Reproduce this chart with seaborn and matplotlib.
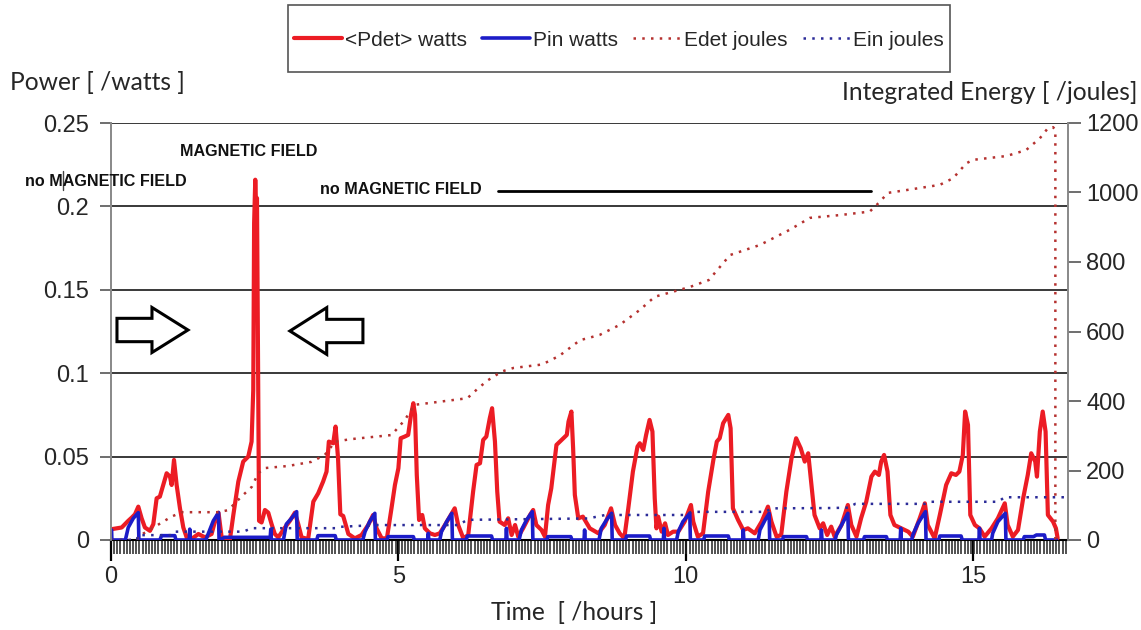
import matplotlib
matplotlib.use("Agg")
import matplotlib.pyplot as plt
import matplotlib.patches as mpatches
from matplotlib.lines import Line2D
from matplotlib.ticker import MultipleLocator
import seaborn as sns

# ---- data -------------------------------------------------------------
pdet_t = [0.0, 0.012, 0.186, 0.30, 0.36, 0.417, 0.475, 0.533, 0.59, 0.678, 0.736, 0.794,
          0.85, 0.91, 0.968, 1.026, 1.055, 1.096, 1.142, 1.2, 1.258, 1.316, 1.40, 1.52,
          1.635, 1.75, 1.80, 1.87, 1.925, 2.07, 2.13, 2.215, 2.30, 2.388, 2.446, 2.475,
          2.49, 2.51, 2.525, 2.54, 2.555, 2.576, 2.62, 2.678, 2.736, 2.794, 2.85, 2.91,
          3.026, 3.113, 3.2, 3.258, 3.316, 3.43, 3.52, 3.605, 3.69, 3.75, 3.79, 3.866,
          3.907, 3.95, 3.99, 4.04, 4.13, 4.243, 4.359, 4.475, 4.56, 4.62, 4.71, 4.80,
          4.88, 4.94, 5.0, 5.04, 5.11, 5.17, 5.22, 5.26, 5.29, 5.32, 5.36, 5.415, 5.46,
          5.55, 5.635, 5.72, 5.81, 5.93, 5.98, 6.04, 6.13, 6.215, 6.30, 6.36, 6.42, 6.475,
          6.53, 6.59, 6.63, 6.68, 6.72, 6.76, 6.85, 6.91, 6.97, 7.03, 7.085, 7.17, 7.29,
          7.345, 7.40, 7.49, 7.55, 7.605, 7.66, 7.75, 7.84, 7.93, 7.96, 8.01, 8.04, 8.07,
          8.13, 8.21, 8.33, 8.48, 8.59, 8.70, 8.77, 8.85, 8.93, 9.0, 9.08, 9.16, 9.2, 9.26,
          9.31, 9.37, 9.42, 9.46, 9.49, 9.52, 9.58, 9.64, 9.69, 9.78, 9.87, 9.98, 10.09,
          10.13, 10.21, 10.3, 10.39, 10.48, 10.54, 10.59, 10.65, 10.74, 10.78, 10.82,
          10.91, 11.0, 11.08, 11.2, 11.32, 11.43, 11.49, 11.58, 11.66, 11.75, 11.84, 11.92,
          12.0, 12.07, 12.13, 12.18, 12.24, 12.33, 12.39, 12.46, 12.53, 12.59, 12.71,
          12.82, 12.88, 12.97, 13.05, 13.14, 13.23, 13.29, 13.36, 13.40, 13.45, 13.51,
          13.56, 13.63, 13.75, 13.87, 13.95, 14.07, 14.16, 14.21, 14.33, 14.42, 14.53,
          14.62, 14.70, 14.76, 14.82, 14.86, 14.91, 14.95, 15.03, 15.11, 15.2, 15.32,
          15.43, 15.55, 15.60, 15.69, 15.78, 15.87, 15.95, 16.01, 16.08, 16.11, 16.16,
          16.21, 16.26, 16.30, 16.39, 16.44, 16.47]
pdet_w = [0.0065, 0.0065, 0.0075, 0.0115, 0.0134, 0.0154, 0.020, 0.013, 0.0075, 0.0055,
          0.0095, 0.025, 0.026, 0.033, 0.040, 0.038, 0.033, 0.048, 0.033, 0.019, 0.0075,
          0.0016, 0.0006, 0.0036, 0.0016, 0.0036, 0.010, 0.0164, 0.0016, 0.0006, 0.0154,
          0.035, 0.047, 0.050, 0.059, 0.09, 0.19, 0.216, 0.20, 0.205, 0.12, 0.0115, 0.0105,
          0.018, 0.0164, 0.0095, 0.0036, 0.0016, 0.0075, 0.0115, 0.0164, 0.0095, 0.0016,
          0.0006, 0.023, 0.028, 0.035, 0.041, 0.059, 0.058, 0.068, 0.049, 0.0154, 0.0144,
          0.0036, 0.001, 0.003, 0.009, 0.015, 0.007, 0.001, 0.001, 0.019, 0.033, 0.043,
          0.061, 0.062, 0.063, 0.075, 0.082, 0.075, 0.039, 0.012, 0.015, 0.007, 0.004,
          0.003, 0.004, 0.009, 0.016, 0.019, 0.009, 0.001, 0.003, 0.029, 0.045, 0.046,
          0.060, 0.062, 0.073, 0.079, 0.059, 0.029, 0.011, 0.009, 0.013, 0.003, 0.009,
          0.002, 0.007, 0.015, 0.018, 0.009, 0.006, 0.002, 0.021, 0.031, 0.057, 0.060,
          0.063, 0.071, 0.077, 0.055, 0.027, 0.013, 0.014, 0.007, 0.004, 0.009, 0.019,
          0.009, 0.004, 0.001, 0.019, 0.041, 0.056, 0.058, 0.054, 0.063, 0.072, 0.065,
          0.025, 0.007, 0.014, 0.005, 0.010, 0.003, 0.005, 0.005, 0.011, 0.021, 0.011,
          0.002, 0.004, 0.029, 0.048, 0.059, 0.061, 0.070, 0.075, 0.067, 0.019, 0.012,
          0.006, 0.007, 0.004, 0.011, 0.020, 0.011, 0.002, 0.003, 0.029, 0.049, 0.061,
          0.055, 0.047, 0.052, 0.035, 0.015, 0.007, 0.010, 0.003, 0.008, 0.002, 0.009,
          0.021, 0.009, 0.002, 0.013, 0.023, 0.038, 0.041, 0.039, 0.047, 0.051, 0.041,
          0.015, 0.009, 0.007, 0.005, 0.002, 0.013, 0.022, 0.009, 0.001, 0.015, 0.033,
          0.040, 0.039, 0.041, 0.051, 0.077, 0.069, 0.015, 0.009, 0.007, 0.002, 0.007,
          0.013, 0.022, 0.009, 0.002, 0.006, 0.025, 0.039, 0.052, 0.047, 0.038, 0.065,
          0.077, 0.065, 0.015, 0.011, 0.007, 0.001]

pin_t = [0.0, 0.01, 0.015, 0.25, 0.30, 0.388, 0.475, 0.485, 0.85, 0.88, 1.11, 1.13, 1.36,
         1.37, 1.38, 1.65, 1.69, 1.78, 1.87, 1.88, 1.98, 2.77, 2.78, 2.79, 3.0, 3.05, 3.14,
         3.23, 3.24, 3.58, 3.6, 3.9, 3.92, 4.38, 4.42, 4.50, 4.59, 4.60, 4.80, 4.82, 5.26,
         5.28, 5.51, 5.52, 5.53, 5.72, 5.75, 5.84, 5.93, 5.94, 6.18, 6.2, 6.62, 6.64, 6.87,
         6.88, 6.89, 7.1, 7.14, 7.23, 7.33, 7.34, 7.58, 7.6, 8.0, 8.02, 8.23, 8.24, 8.25,
         8.49, 8.53, 8.62, 8.71, 8.72, 8.95, 8.97, 9.37, 9.39, 9.61, 9.62, 9.63, 9.84, 9.87,
         9.95, 10.07, 10.08, 10.31, 10.33, 10.74, 10.76, 10.99, 11.0, 11.01, 11.26, 11.29,
         11.38, 11.45, 11.46, 11.68, 11.7, 12.1, 12.12, 12.35, 12.36, 12.37, 12.6, 12.62,
         12.71, 12.82, 12.83, 13.09, 13.11, 13.49, 13.51, 13.73, 13.74, 13.75, 13.93,
         13.95, 14.04, 14.17, 14.18, 14.4, 14.42, 14.79, 14.81, 15.1, 15.11, 15.12, 15.32,
         15.34, 15.43, 15.56, 15.57, 15.87, 15.89, 16.05, 16.1, 16.24, 16.26, 16.45]
pin_w = [0.006, 0.006, 0.0, 0.0, 0.0075, 0.013, 0.0164, 0.0, 0.0, 0.0026, 0.0026, 0.0, 0.0,
         0.0065, 0.0, 0.0, 0.0036, 0.0115, 0.0164, 0.0, 0.0016, 0.0016, 0.0065, 0.0, 0.0,
         0.0095, 0.013, 0.017, 0.0, 0.0, 0.0026, 0.0026, 0.0, 0.0, 0.005, 0.011, 0.016,
         0.0, 0.0, 0.002, 0.002, 0.0, 0.0, 0.004, 0.0, 0.0, 0.005, 0.011, 0.016, 0.0, 0.0,
         0.0024, 0.0024, 0.0, 0.0, 0.007, 0.0, 0.0, 0.006, 0.012, 0.017, 0.0, 0.0, 0.002,
         0.002, 0.0, 0.0, 0.006, 0.0, 0.0, 0.007, 0.012, 0.016, 0.0, 0.0, 0.0024, 0.0024,
         0.0, 0.0, 0.007, 0.0, 0.0, 0.005, 0.011, 0.016, 0.0, 0.0, 0.0024, 0.0024, 0.0,
         0.0, 0.006, 0.0, 0.0, 0.006, 0.012, 0.016, 0.0, 0.0, 0.002, 0.002, 0.0, 0.0,
         0.006, 0.0, 0.0, 0.003, 0.009, 0.016, 0.0, 0.0, 0.002, 0.002, 0.0, 0.0, 0.007,
         0.0, 0.0, 0.003, 0.010, 0.017, 0.0, 0.0, 0.0024, 0.0024, 0.0, 0.0, 0.007, 0.0,
         0.0, 0.004, 0.011, 0.016, 0.0, 0.0, 0.002, 0.002, 0.003, 0.003, 0.0, 0.0]

edet_t = [0.0, 0.45, 0.475, 0.76, 1.05, 1.23, 1.87, 2.04, 2.27, 2.45, 2.56, 2.68, 3.08,
          3.49, 3.72, 3.9, 4.16, 4.88, 5.11, 5.28, 5.58, 6.2, 6.39, 6.56, 6.8, 7.0, 7.5,
          7.8, 8.16, 8.5, 8.85, 9.2, 9.46, 10.07, 10.4, 10.77, 11.29, 11.8, 12.16, 12.68,
          13.2, 13.32, 13.52, 13.84, 14.42, 14.65, 14.88, 15.0, 15.58, 15.92, 16.16, 16.3,
          16.39, 16.43, 16.43]
edet_j = [0, 0, 10, 38, 67, 80, 80, 86, 125, 153, 192, 207, 213, 225, 245, 283, 290, 302,
          345, 389, 395, 408, 437, 460, 485, 495, 505, 530, 575, 590, 619, 662, 700, 728,
          748, 820, 849, 892, 927, 935, 945, 964, 999, 1007, 1022, 1041, 1084, 1094, 1105,
          1122, 1156, 1185, 1188, 1180, 0]

ein_t = [0.0, 0.45, 0.475, 1.05, 1.1, 2.3, 2.45, 3.9, 4.0, 4.6, 6.04, 6.2, 8.3, 8.45, 8.6,
         9.98, 10.1, 11.38, 11.5, 12.5, 12.82, 12.95, 14.16, 14.25, 15.43, 15.55, 16.6]
ein_j = [0, 0, 14, 14, 24, 24, 34, 34, 38, 43, 43, 58, 62, 67, 72, 72, 81, 81, 91, 92, 93,
         104, 104, 110, 110, 123, 123]

power_ticks = [0, 0.05, 0.1, 0.15, 0.2, 0.25]
power_labels = ["0", "0.05", "0.1", "0.15", "0.2", "0.25"]
energy_ticks = [0, 200, 400, 600, 800, 1000, 1200]
time_ticks = [0, 5, 10, 15]

# ---- styling ------------------------------------------------------------
sns.set_style("white")
plt.rcParams["font.family"] = ["Liberation Sans", "DejaVu Sans"]

W, H = 1141, 630
RED = "#ec1c24"
BLUE = "#1c1cc8"
RED_DOT = "#b5312f"
BLUE_DOT = "#2b2b98"


def fpos(x, y):
    return x / W, 1 - y / H


fig = plt.figure(figsize=(W / 100, H / 100), dpi=100)
fig.patch.set_facecolor("white")
ax = fig.add_axes([111 / W, 1 - 540 / H, (1068 - 111) / W, (540 - 123) / H])
ax2 = ax.twinx()

sns.lineplot(x=pdet_t, y=pdet_w, ax=ax, color=RED, linewidth=3.0, estimator=None,
             sort=False, label="<Pdet> watts", zorder=3)
sns.lineplot(x=pin_t, y=pin_w, ax=ax, color=BLUE, linewidth=2.6, estimator=None,
             sort=False, label="Pin watts", zorder=4)
sns.lineplot(x=edet_t, y=edet_j, ax=ax2, color=RED_DOT, linewidth=1.8, estimator=None,
             sort=False, label="Edet joules", linestyle=(0, (1, 2.5)))
sns.lineplot(x=ein_t, y=ein_j, ax=ax2, color=BLUE_DOT, linewidth=1.8, estimator=None,
             sort=False, label="Ein joules", linestyle=(0, (1, 2.5)))

h1, l1 = ax.get_legend_handles_labels()
h2, l2 = ax2.get_legend_handles_labels()
for a in (ax, ax2):
    if a.get_legend() is not None:
        a.get_legend().remove()

ax.set_xlim(0, 16.65)
ax.set_ylim(0, 0.25)
ax2.set_ylim(0, 1200)
ax.set_xlabel("")
ax.set_ylabel("")
ax2.set_ylabel("")

ax.set_yticks(power_ticks)
ax.set_yticklabels(power_labels)
ax2.set_yticks(energy_ticks)
ax.set_xticks(time_ticks)
ax.xaxis.set_minor_locator(MultipleLocator(0.055))

ax.grid(False)
ax2.grid(False)
for yv in power_ticks[1:]:
    ax.axhline(yv, color="#2a2a2a", linewidth=1.3, zorder=1)

for side in ("left", "right"):
    ax.spines[side].set_color("#8a8a8a")
    ax2.spines[side].set_color("#8a8a8a")
    ax.spines[side].set_linewidth(1.3)
    ax2.spines[side].set_linewidth(1.3)
ax.spines["top"].set_visible(False)
ax2.spines["top"].set_visible(False)
ax.spines["bottom"].set_color("black")
ax.spines["bottom"].set_linewidth(1.5)
ax2.spines["bottom"].set_visible(False)

ax.tick_params(axis="y", which="major", direction="out", length=8, width=1.2,
               color="#555555", labelsize=17, pad=8, left=True)
ax2.tick_params(axis="y", which="major", direction="out", length=9, width=1.2,
                color="#555555", labelsize=17, pad=4, right=True)
ax.tick_params(axis="x", which="major", direction="out", length=15, width=1.6,
               color="black", labelsize=17, pad=4, bottom=True)
ax.tick_params(axis="x", which="minor", direction="out", length=10, width=1.1,
               color="#222222", bottom=True)

# axis titles
title_font = dict(family=["Lato", "DejaVu Sans"], fontsize=17.7)
fig.text(*fpos(10, 83), "Power [ /watts ]", ha="left", va="center", **title_font)
fig.text(*fpos(1137, 93), "Integrated Energy [ /joules]", ha="right", va="center",
         **title_font)
fig.text(*fpos(574, 612), "Time  [ /hours ]", ha="center", va="center", **title_font)

# field annotations
ann_font = dict(family=["Liberation Sans", "DejaVu Sans"], fontweight="bold",
                fontsize=11.6, color="#111111")
fig.text(*fpos(249, 152), "MAGNETIC FIELD", ha="center", va="center", **ann_font)
fig.text(*fpos(25, 181), "no MAGNETIC FIELD", ha="left", va="center", **ann_font)
fig.text(*fpos(320, 190), "no MAGNETIC FIELD", ha="left", va="center", **ann_font)
ax.plot([6.73, 13.23], [0.2092, 0.2092], color="black", linewidth=2.0, zorder=5)
fig.add_artist(Line2D([63 / W, 63 / W], [1 - 171 / H, 1 - 190 / H], color="#444444",
                      linewidth=1.0))

# block arrows pointing at the field interval
ax.add_patch(mpatches.FancyArrow(0.104, 0.1259, 1.235, 0.0, width=0.014, head_width=0.027,
                                 head_length=0.626, length_includes_head=True,
                                 facecolor="white", edgecolor="black", linewidth=2.2,
                                 zorder=6))
ax.add_patch(mpatches.FancyArrow(4.383, 0.1253, -1.27, 0.0, width=0.014, head_width=0.028,
                                 head_length=0.64, length_includes_head=True,
                                 facecolor="white", edgecolor="black", linewidth=2.2,
                                 zorder=6))

# legend across the top, inside its own box
fig.add_artist(mpatches.Rectangle(fpos(288, 72), (950 - 288) / W, (72 - 5) / H,
                                  transform=fig.transFigure, facecolor="white",
                                  edgecolor="#555555", linewidth=1.2, zorder=0))
leg = fig.legend(h1 + h2, l1 + l2, loc="center", bbox_to_anchor=fpos(619, 40), ncol=4,
                 frameon=False, prop={"family": ["Liberation Sans", "DejaVu Sans"],
                                      "size": 15},
                 handlelength=2.3, handletextpad=0.12, columnspacing=0.75, borderpad=0.2)

fig.savefig("out.png", dpi=100, facecolor="white")
